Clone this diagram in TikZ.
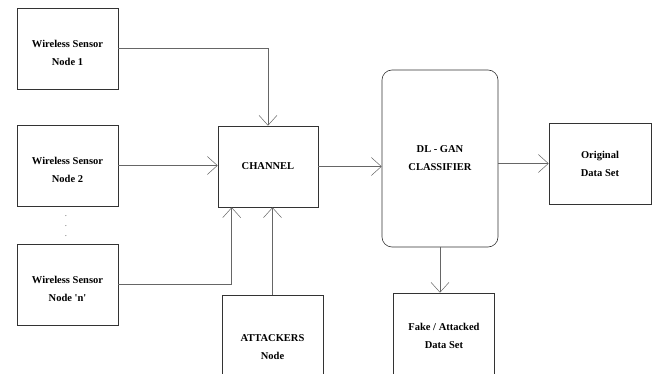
\documentclass[tikz,border=0pt]{standalone}
\usepackage{fontspec}
\setmainfont{Liberation Serif}
\usetikzlibrary{arrows.meta}
\begin{document}
\begin{tikzpicture}[x=1pt, y=-1pt, >={Straight Barb[length=10pt,width=18pt]},
 box/.style={draw=black!80, line width=0.6pt, align=center, inner sep=0pt, minimum width=101pt, minimum height=81pt, font=\fontsize{10.5}{18}\selectfont\bfseries},
 wsbox/.style={box, text height=38pt, text depth=3pt},
 link/.style={->, draw=black!60, line width=0.5pt}]
\useasboundingbox (0,0) rectangle (654,374);
\node (ws1) at (67.5,48.5)[wsbox]{Wireless Sensor\\Node 1};
\node (ws2) at (67.5,165.5)[wsbox]{Wireless Sensor\\Node 2};
\node (wsn) at (67.5,284.5)[wsbox]{Wireless Sensor\\Node \textquotesingle n\textquotesingle};
\node (dots) at (66,226)[align=center, inner sep=0pt, font=\fontsize{7}{10}\selectfont]{.\\.\\.};
\node (chan) at (268,166.5)[box, minimum width=100pt]{CHANNEL};
\node (att) at (272.5,347)[box, minimum height=104pt]{ATTACKERS\\Node};
\node (dl) at (440,158.5)[box, rounded corners=10pt, minimum width=116pt, minimum height=177pt]{DL - GAN\\CLASSIFIER};
\node (orig) at (600,163.5)[box, minimum width=102pt]{Original\\Data Set};
\node (fake) at (444,336)[box, minimum height=86pt]{Fake / Attacked\\Data Set};

\draw[link](ws1.east) -| (chan.north);
\draw[link](ws2.east) -- (ws2.east -| chan.west);
\draw[link](wsn.east) -| ([xshift=14pt]chan.south west);
\draw[link](att.north) -- (att.north |- chan.south);
\draw[link](chan.east) -- (chan.east -| dl.west);
\draw[link](orig.west -| dl.east) -- (orig.west);
\draw[link](dl.south) -- (dl.south |- fake.north);
\end{tikzpicture}
\end{document}
